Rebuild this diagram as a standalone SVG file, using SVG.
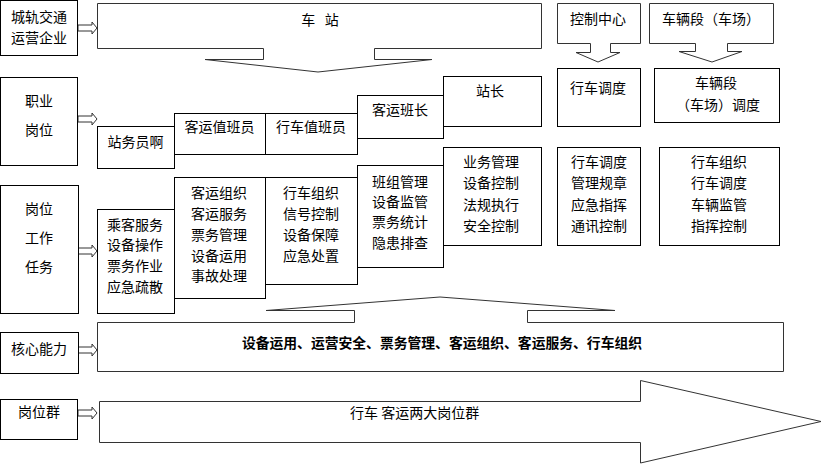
<svg xmlns="http://www.w3.org/2000/svg" xmlns:xlink="http://www.w3.org/1999/xlink" width="824" height="465" viewBox="0 0 824 465">
<defs>
<style>
.bx,.shape{fill:#fff;stroke:#000;stroke-width:1}
.co{fill:#fff;stroke:#333;stroke-width:1}
text{font-family:"Noto Sans CJK SC","Noto Sans",sans-serif;font-size:14px;fill:#000;text-anchor:middle}
.b{font-weight:bold;font-size:13.8px}
.s{text-anchor:start}
</style>
<path id="ar" d="M78,-3 H92 V-6 L97,0 L92,6 V3 H78 Z" fill="#fff" stroke="#333" stroke-width="1"/>
</defs>
<rect width="824" height="465" fill="#fff"/>
<g id="connectors">
<use xlink:href="#ar" href="#ar" transform="translate(0,28)"/>
<use xlink:href="#ar" href="#ar" transform="translate(0,119)"/>
<use xlink:href="#ar" href="#ar" transform="translate(0,251)"/>
<use xlink:href="#ar" href="#ar" transform="translate(0,350)"/>
<use xlink:href="#ar" href="#ar" transform="translate(0,413)"/>
</g>
<g id="n-company"><rect class="bx" x="0.5" y="0.5" width="77" height="55"/><text x="39" y="22">城轨交通</text><text x="39" y="43">运营企业</text></g>
<g id="n-station"><path class="co" d="M97.5,3.5 H541.5 V48.5 H374.5 V59.5 H432 L318,72 L205,59.5 H263.5 V48.5 H97.5 Z"/><text x="320" y="25" xml:space="preserve">车   站</text></g>
<g id="n-control"><path class="co" d="M557.5,3.5 H640.5 V43.5 H610.5 V52.5 H620 L598,62 L576,52.5 H590.5 V43.5 H557.5 Z"/><text x="598" y="24">控制中心</text></g>
<g id="n-depot"><path class="co" d="M649.5,3.5 H773.5 V43.5 H727.5 V51.5 H742 L712,62 L679,51.5 H695.5 V43.5 H649.5 Z"/><text x="711" y="24">车辆段（车场）</text></g>
<g id="n-job"><rect class="bx" x="0.5" y="77.5" width="77" height="88"/><text x="39" y="106">职业</text><text x="39" y="135">岗位</text></g>
<g id="n-zwy"><rect class="bx" x="97.5" y="126.5" width="77" height="42"/><text x="135.5" y="147">站务员啊</text></g>
<g id="n-kyzby"><rect class="bx" x="174.5" y="113.5" width="91" height="41"/><text x="219.5" y="132">客运值班员</text></g>
<g id="n-xczby"><rect class="bx" x="265.5" y="113.5" width="92" height="41"/><text x="311" y="132">行车值班员</text></g>
<g id="n-kybz"><rect class="bx" x="357.5" y="95.5" width="86" height="43"/><text x="400" y="115">客运班长</text></g>
<g id="n-zz"><rect class="bx" x="443.5" y="76.5" width="98" height="50"/><text x="490" y="96">站长</text></g>
<g id="n-xcdd"><rect class="bx" x="557.5" y="68.5" width="83" height="58"/><text x="598" y="93">行车调度</text></g>
<g id="n-cldd"><rect class="bx" x="654.5" y="68.5" width="125" height="54"/><text x="716" y="88">车辆段</text><text x="718" y="110">（车场）调度</text></g>
<g id="n-task"><rect class="bx" x="0.5" y="185.5" width="78" height="128"/><text x="39" y="214">岗位</text><text x="39" y="243">工作</text><text x="39" y="272">任务</text></g>
<g id="t-zwy"><rect class="bx" x="97.5" y="209.5" width="77" height="104"/><text x="135" y="230">乘客服务</text><text x="135" y="250">设备操作</text><text x="135" y="271">票务作业</text><text x="135" y="292">应急疏散</text></g>
<g id="t-kyzby"><rect class="bx" x="174.5" y="177.5" width="91" height="121"/><text x="219" y="198">客运组织</text><text x="219" y="219">客运服务</text><text x="219" y="240">票务管理</text><text x="219" y="261">设备运用</text><text x="219" y="281">事故处理</text></g>
<g id="t-xczby"><rect class="bx" x="265.5" y="177.5" width="92" height="107"/><text x="311" y="198">行车组织</text><text x="311" y="219">信号控制</text><text x="311" y="240">设备保障</text><text x="311" y="261">应急处置</text></g>
<g id="t-kybz"><rect class="bx" x="357.5" y="165.5" width="86" height="102"/><text x="400" y="187">班组管理</text><text x="400" y="207">设备监管</text><text x="400" y="227">票务统计</text><text x="400" y="248">隐患排查</text></g>
<g id="t-zz"><rect class="bx" x="443.5" y="147.5" width="98" height="98"/><text x="491" y="167">业务管理</text><text x="491" y="188">设备控制</text><text x="491" y="210">法规执行</text><text x="491" y="231">安全控制</text></g>
<g id="t-xcdd"><rect class="bx" x="557.5" y="147.5" width="83" height="98"/><text x="599" y="167">行车调度</text><text x="599" y="188">管理规章</text><text x="599" y="210">应急指挥</text><text x="599" y="231">通讯控制</text></g>
<g id="t-cldd"><rect class="bx" x="659.5" y="147.5" width="120" height="98"/><text x="719" y="167">行车组织</text><text x="719" y="188">行车调度</text><text x="719" y="210">车辆监管</text><text x="719" y="231">指挥控制</text></g>
<g id="n-core"><rect class="bx" x="0.5" y="332.5" width="78" height="41"/><text x="39" y="354">核心能力</text></g>
<g id="n-core-content"><path class="co" d="M97.5,322.5 H354.5 V310.5 H266 L440,297 L615,310.5 H527.5 V322.5 H783.5 V371.5 H97.5 Z"/><text class="b" x="442" y="348">设备运用、运营安全、票务管理、客运组织、客运服务、行车组织</text></g>
<g id="n-group"><rect class="bx" x="0.5" y="399.5" width="77" height="40"/><text x="39" y="417">岗位群</text></g>
<g id="n-group-content"><path class="co" d="M99.5,401.5 H640.5 V380.5 L821,421.5 L640.5,463 V442.5 H99.5 Z"/><text class="s" x="350" y="418">行车 客运两大岗位群</text></g>
</svg>
